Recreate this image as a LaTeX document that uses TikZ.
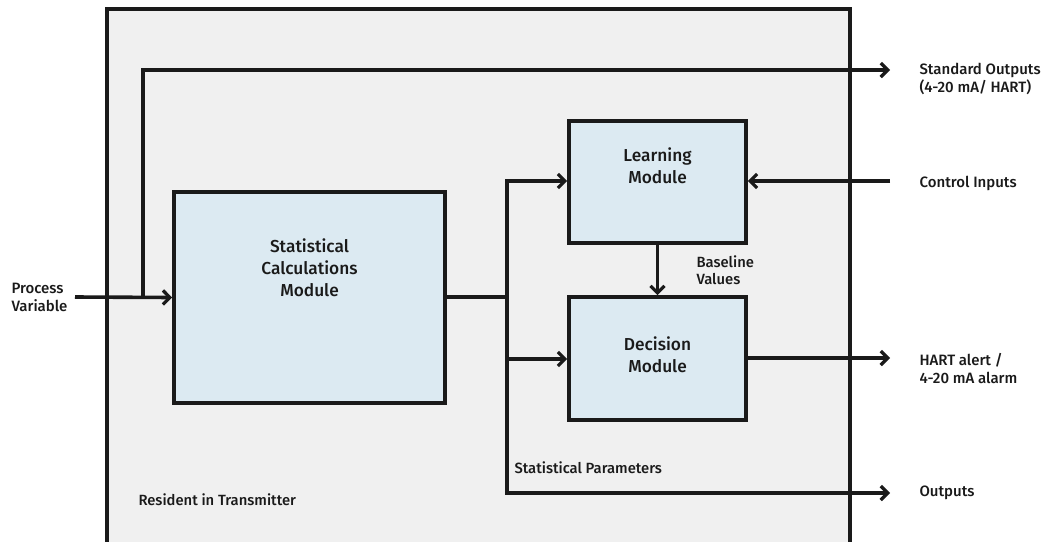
\documentclass[tikz,border=0pt]{standalone}
\usepackage{fontspec}
\setmainfont{Fira Sans Medium}
\usetikzlibrary{arrows.meta}
\definecolor{bgray}{HTML}{F0F0F0}
\definecolor{mblue}{HTML}{DCEAF2}
\definecolor{ink}{HTML}{1A1A1A}
\begin{document}
\begin{tikzpicture}[x=1pt,y=-1pt,
  line/.style={draw=ink,line width=3.6pt},
  arr/.style={line,-{Straight Barb[length=7pt,width=14pt,line width=3.2pt]}},
  module/.style={draw=ink,line width=3.6pt,fill=mblue,inner sep=0pt},
  mlabel/.style={font=\fontsize{17.3}{22}\selectfont,align=center,text=ink},
  olabel/.style={font=\fontsize{15}{18}\selectfont,align=left,text=ink,anchor=west},
  slabel/.style={font=\fontsize{14.8}{17}\selectfont,align=left,text=ink,anchor=west}]
\useasboundingbox (0,0) rectangle (1054,541);
\fill[white] (0,0) rectangle (1054,541);
% outer transmitter box
\fill[bgray] (107,9) rectangle (850,545);
\draw[ink,line width=3.6pt] (107,548) -- (107,9) -- (850,9) -- (850,548);
% modules
\node[module,minimum width=271pt,minimum height=211pt] (stat) at (309.5,297.5) {};
\node[module,minimum width=177pt,minimum height=122pt] (learn) at (657.5,182) {};
\node[module,minimum width=177pt,minimum height=123pt] (dec) at (657.5,358.5) {};
\node[mlabel] (statt) at (309.5,268) {Statistical\\Calculations\\Module};
\node[mlabel] (learnt) at (657.5,166) {Learning\\Module};
\node[mlabel] (dect) at (657.5,355) {Decision\\Module};
% external labels
\node[olabel] (pv) at (8,297) {Process\\Variable};
\node[olabel] (so) at (916,79) {Standard Outputs\\(4-20 mA/ HART)};
\node[olabel] (ci) at (916,183) {Control Inputs};
\node[olabel] (ha) at (916,369) {HART alert /\\4-20 mA alarm};
\node[olabel] (out) at (916,493) {Outputs};
\node[slabel] (bv) at (693,270) {Baseline\\Values};
\node[slabel] (sp) at (511,468) {Statistical Parameters};
\node[slabel] (rit) at (135,500) {Resident in Transmitter};
% coordinates
\coordinate (pvend) at (75,297);
\coordinate (split) at (143,297);
\coordinate (splittop) at (143,70);
\coordinate (soend) at (890,70);
\coordinate (j) at (507,297);
\coordinate (jt) at (507,181);
\coordinate (jd) at (507,359);
\coordinate (jb) at (507,493);
\coordinate (ciend) at (890,181);
\coordinate (haend) at (890,358);
\coordinate (outend) at (890,493);
% connectors
\draw[arr] (pvend) -- (stat.west);
\draw[arr] (split) -- (splittop) -- (soend);
\draw[line] (stat.east |- j) -- (j);
\draw[arr] (j) -- (jt) -- (learn.west |- jt);
\draw[arr] (j) -- (jd) -- (dec.west |- jd);
\draw[arr] (jd) -- (jb) -- (outend);
\draw[arr] (ciend) -- (learn.east |- ciend);
\draw[arr] (learn.south) -- (dec.north);
\draw[arr] (dec.east |- haend) -- (haend);
\end{tikzpicture}
\end{document}
